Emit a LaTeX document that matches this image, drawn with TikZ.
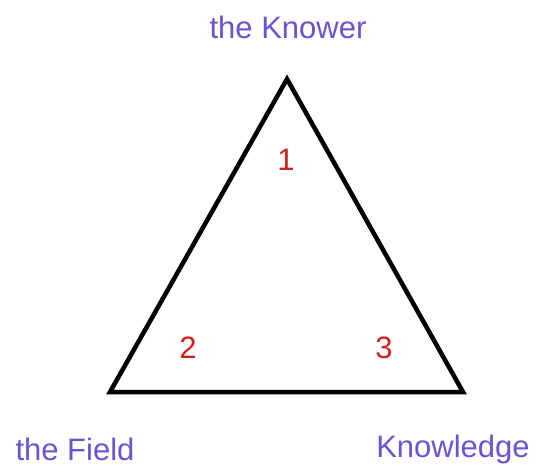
\documentclass[tikz,border=0pt]{standalone}
\usepackage{fontspec}
\setmainfont{Liberation Sans}
\definecolor{lblpurple}{RGB}{108,82,212}
\definecolor{numred}{RGB}{208,32,32}
\tikzset{
  vlabel/.style={text=lblpurple, font=\fontsize{31}{33}\selectfont, inner sep=0pt},
  numlabel/.style={text=numred, font=\fontsize{31}{33}\selectfont, inner sep=0pt},
  edge/.style={draw=black, line width=4.5pt, line join=miter}
}
\begin{document}
\begin{tikzpicture}[x=1pt,y=-1pt]
\useasboundingbox (0,0) rectangle (546,467);
\coordinate (A) at (287,79);
\coordinate (B) at (110,392);
\coordinate (C) at (463,392);
\draw[edge] (A) -- (B) -- (C) -- cycle;
\node[vlabel] (knower) at (288,27) {the Knower};
\node[vlabel] (field) at (75,449) {the Field};
\node[vlabel] (knowledge) at (453,449) {Knowledge};
\node[numlabel] (n1) at (286,160) {1};
\node[numlabel] (n2) at (188,348) {2};
\node[numlabel] (n3) at (384,348) {3};
\end{tikzpicture}
\end{document}
